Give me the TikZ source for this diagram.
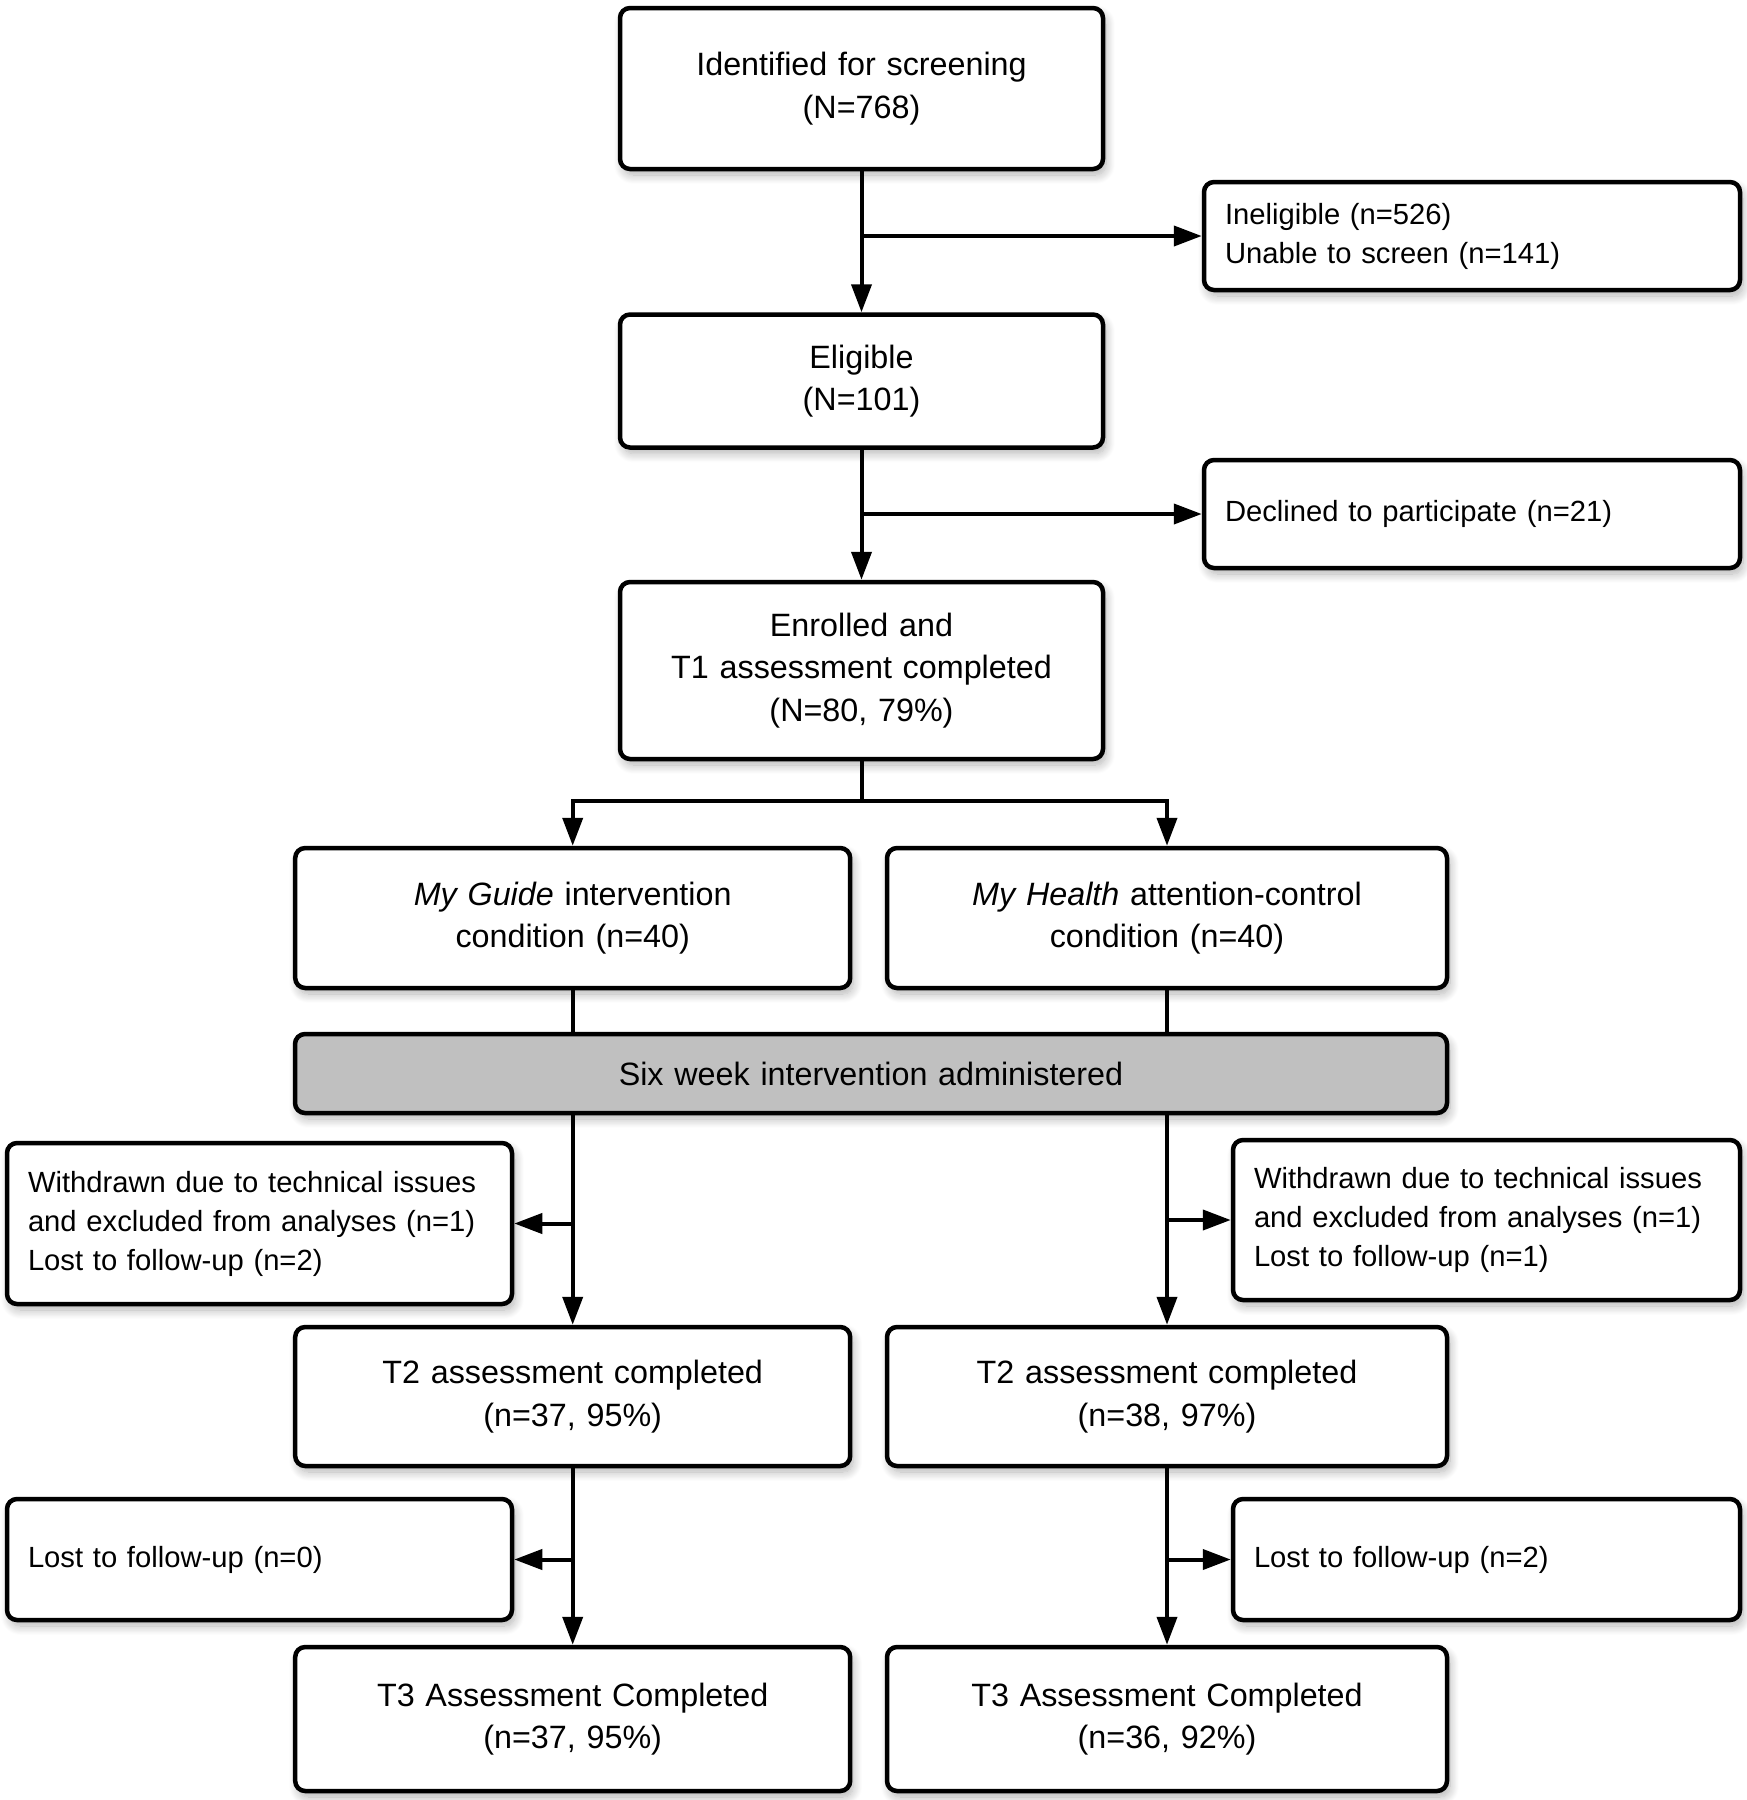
\documentclass[tikz,border=0pt]{standalone}
\usepackage{fontspec}
\setmainfont{Liberation Sans}
\usetikzlibrary{arrows.meta,shadows.blur}
\definecolor{boxgray}{RGB}{192,192,192}
\tikzset{
  base/.style={draw=black, line width=4.5pt, rounded corners=10pt, fill=white,
    blur shadow={shadow xshift=3pt, shadow yshift=-6pt, shadow blur radius=9pt, shadow blur steps=12, shadow opacity=30}},
  mainbox/.style={base, align=center, inner xsep=10pt, inner ysep=0pt,
    font=\fontsize{32.3}{42.5}\selectfont},
  sidebox/.style={base, align=left, inner xsep=21pt, inner ysep=0pt,
    font=\fontsize{29.2}{39}\selectfont},
  conn/.style={line width=4pt, draw=black},
  arr/.style={-{Triangle[length=28pt,width=20pt]}}
}
\begin{document}
\begin{tikzpicture}[x=1pt,y=-1pt]
\useasboundingbox (0,0) rectangle (1747,1800);
% main column
\node[mainbox, text width=463pt, minimum height=161pt] (ident) at (861.5,88.5) {Identified for screening\\(N=768)};
\node[mainbox, text width=463pt, minimum height=133pt] (elig) at (861.5,381) {Eligible\\(N=101)};
\node[mainbox, text width=463pt, minimum height=177pt] (enrol) at (861.5,670.5) {Enrolled and\\T1 assessment completed\\(N=80, 79\%)};
% right side exclusions
\node[sidebox, text width=494pt, minimum height=108pt] (inel) at (1472,236) {Ineligible (n=526)\\Unable to screen (n=141)};
\node[sidebox, text width=494pt, minimum height=108pt] (decl) at (1472,514) {Declined to participate (n=21)};
% arms
\node[mainbox, text width=535pt, minimum height=140pt] (guide) at (572.7,918) {\textit{My Guide} intervention\\condition (n=40)};
\node[mainbox, text width=540pt, minimum height=140pt] (health) at (1167,918) {\textit{My Health} attention-control\\condition (n=40)};
\node[mainbox, fill=boxgray, text width=1132pt, minimum height=79pt] (six) at (871,1073.5) {Six week intervention administered};
% withdrawn
\node[sidebox, text width=463pt, minimum height=161pt] (wl) at (259.5,1223.5) {Withdrawn due to technical issues\\and excluded from analyses (n=1)\\Lost to follow-up (n=2)};
\node[sidebox, text width=465pt, minimum height=160pt] (wr) at (1486.5,1220) {Withdrawn due to technical issues\\and excluded from analyses (n=1)\\Lost to follow-up (n=1)};
% T2
\node[mainbox, text width=535pt, minimum height=139pt] (t2l) at (572.7,1396.5) {T2 assessment completed\\(n=37, 95\%)};
\node[mainbox, text width=540pt, minimum height=139pt] (t2r) at (1167,1396.5) {T2 assessment completed\\(n=38, 97\%)};
% lost
\node[sidebox, text width=463pt, minimum height=121pt] (ll) at (259.5,1559.5) {Lost to follow-up (n=0)};
\node[sidebox, text width=465pt, minimum height=121pt] (lr) at (1486.5,1559.5) {Lost to follow-up (n=2)};
% T3
\node[mainbox, text width=535pt, minimum height=144pt] (t3l) at (572.7,1719) {T3 Assessment Completed\\(n=37, 95\%)};
\node[mainbox, text width=540pt, minimum height=144pt] (t3r) at (1167,1719) {T3 Assessment Completed\\(n=36, 92\%)};

% connectors
\draw[conn,arr] (ident.south) -- (elig.north);
\draw[conn,arr] (ident.south |- inel.west) -- (inel.west);
\draw[conn,arr] (elig.south) -- (enrol.north);
\draw[conn,arr] (elig.south |- decl.west) -- (decl.west);
\coordinate (split) at (861.5,801);
\draw[conn] (enrol.south) -- (split);
\draw[conn,arr] (split) -| (guide.north);
\draw[conn,arr] (split) -| (health.north);
\draw[conn] (guide.south) -- (guide.south |- six.north);
\draw[conn] (health.south) -- (health.south |- six.north);
\draw[conn,arr] (t2l.north |- six.south) -- (t2l.north);
\draw[conn,arr] (t2r.north |- six.south) -- (t2r.north);
\draw[conn,arr] (t2l.north |- wl.east) -- (wl.east);
\draw[conn,arr] (t2r.north |- wr.west) -- (wr.west);
\draw[conn,arr] (t2l.south) -- (t3l.north);
\draw[conn,arr] (t2r.south) -- (t3r.north);
\draw[conn,arr] (t2l.south |- ll.east) -- (ll.east);
\draw[conn,arr] (t2r.south |- lr.west) -- (lr.west);
\end{tikzpicture}
\end{document}
